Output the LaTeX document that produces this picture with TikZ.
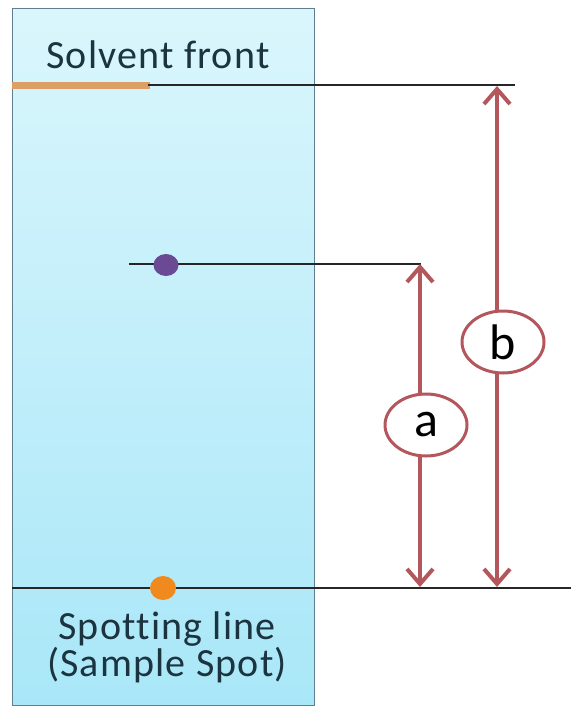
\documentclass[tikz,border=0pt]{standalone}
\usepackage{fontspec}
\setmainfont{Carlito}[Ligatures={NoCommon},LetterSpace=3]
\usetikzlibrary{arrows.meta,shapes.geometric,positioning}

\definecolor{arrowred}{HTML}{B3575D}
\definecolor{platetop}{HTML}{DAF6FC}
\definecolor{platebot}{HTML}{A9E7F8}
\definecolor{plateedge}{HTML}{5F7F8E}
\definecolor{frontorange}{HTML}{DCA066}
\definecolor{spotorange}{HTML}{F08A1E}
\definecolor{spotpurple}{HTML}{6A4A94}
\definecolor{labeltext}{HTML}{1C3340}

\tikzset{
  dist/.style={draw=arrowred, line width=4pt,
    {Straight Barb[length=15pt,width=26pt]}-{Straight Barb[length=15pt,width=26pt]}},
  tag/.style={ellipse, draw=arrowred, line width=3pt, fill=white,
    minimum width=82pt, minimum height=62pt, inner sep=0pt, font=\fontsize{50}{50}\selectfont},
  guide/.style={draw=black!85, line width=1.5pt},
  platetext/.style={text=labeltext, font=\fontsize{40}{36}\selectfont, align=center}
}

\begin{document}
\begin{tikzpicture}[x=1pt,y=-1pt]
  \useasboundingbox (0,0) rectangle (571,708);

  % TLC plate
  \node[draw=plateedge, line width=1pt, top color=platetop, bottom color=platebot,
        minimum width=302pt, minimum height=697pt, inner sep=0pt, anchor=north west]
        (plate) at (12,8) {};

  % Solvent front
  \draw[frontorange, line width=7pt] (12,86) -- (150,86);
  \coordinate (frontL) at (148,85);
  \coordinate (frontR) at (515,85);
  \draw[guide] (frontL) -- (frontR);
  \node[platetext, anchor=base] (fronttext) at (158,69) {Solvent front};

  % Compound spot
  \coordinate (spotL) at (129,264);
  \coordinate (spotR) at (421,264);
  \draw[guide] (spotL) -- (spotR);
  \node[ellipse, fill=spotpurple, minimum width=25pt, minimum height=22pt, inner sep=0pt]
        (spot) at (166,265) {};

  % Spotting line
  \coordinate (baseL) at (12,588);
  \coordinate (baseR) at (571,588);
  \draw[guide] (baseL) -- (baseR);
  \node[ellipse, fill=spotorange, minimum width=26pt, minimum height=24pt, inner sep=0pt]
        (sample) at (163,588) {};
  \node[platetext] (basetext) at (167,647) {Spotting line\\(Sample Spot)};

  % Distances
  \coordinate (aTop) at (420,264);
  \coordinate (aBot) at (420,587);
  \coordinate (bTop) at (497,86);
  \coordinate (bBot) at (497,587);
  \draw[dist] (aBot) -- (aTop);
  \draw[dist] (bBot) -- (bTop);
  \node[tag] (a) at (426,425) {a};
  \node[tag] (b) at (503,342) {b};
\end{tikzpicture}
\end{document}
